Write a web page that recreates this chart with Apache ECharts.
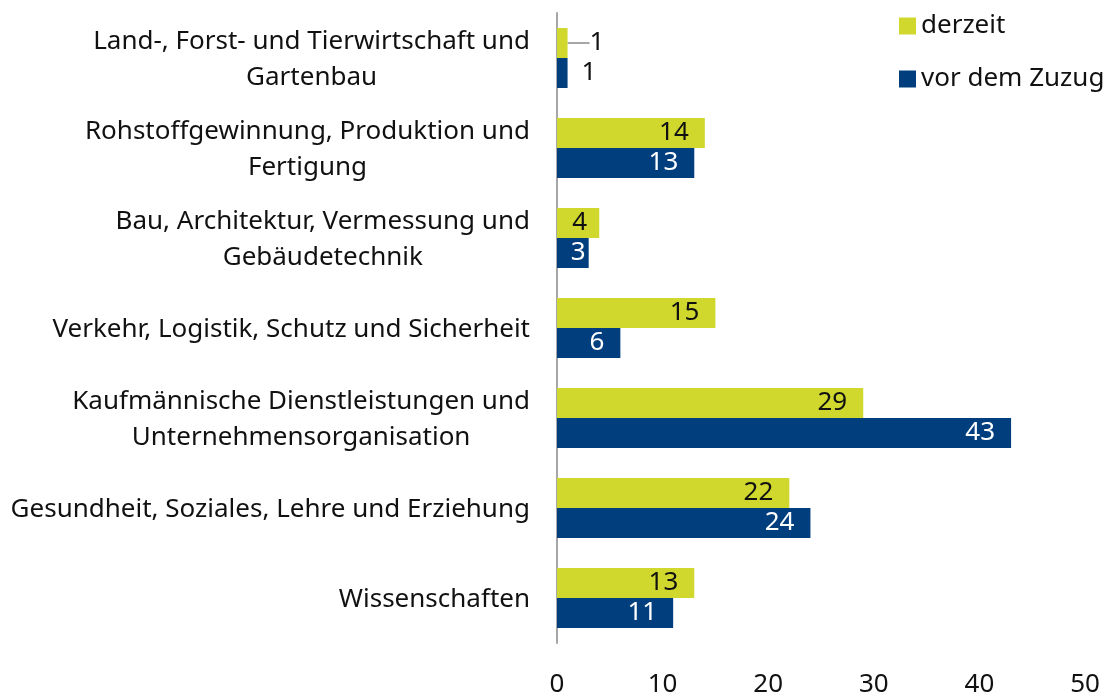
<!DOCTYPE html>
<html><head><meta charset="utf-8">
<script src="https://cdn.jsdelivr.net/npm/echarts@6/dist/echarts.min.js"></script>
<style>html,body{margin:0;padding:0;background:#fff}#c{width:1103px;height:695px}</style>
</head><body><div id="c"></div>
<script>
const categories = [
  "Land-, Forst- und Tierwirtschaft und\nGartenbau",
  "Rohstoffgewinnung, Produktion und\nFertigung",
  "Bau, Architektur, Vermessung und\nGebäudetechnik",
  "Verkehr, Logistik, Schutz und Sicherheit",
  "Kaufmännische Dienstleistungen und\nUnternehmensorganisation",
  "Gesundheit, Soziales, Lehre und Erziehung",
  "Wissenschaften"
];
const seriesNames = ["derzeit", "vor dem Zuzug"];
const derzeit = [1, 14, 4, 15, 29, 22, 13];
const vorDemZuzug = [1, 13, 3, 6, 43, 24, 11];
const xTicks = [0, 10, 20, 30, 40, 50];

const FONT = "Noto Sans";
const FS = 26;
const TXT = "#111";
const chart = echarts.init(document.getElementById('c'), null, {renderer: 'canvas'});

function labelFor(v, isBlue) {
  if (v < 2) return {position: 'right', distance: isBlue ? 14 : 8, color: TXT};
  if (v < 4) return {distance: 3};
  if (v < 5) return {distance: 12};
  return {};
}
function mkData(arr, isBlue) {
  return arr.map(v => ({value: v, label: labelFor(v, isBlue)}));
}

chart.setOption({
  animation: false,
  textStyle: {fontFamily: FONT},
  legend: {
    orient: 'vertical', left: 894, top: 8,
    itemWidth: 17, itemHeight: 17, itemGap: 27,
    icon: 'rect',
    textStyle: {fontSize: FS, color: TXT, fontFamily: FONT},
    data: seriesNames
  },
  grid: {left: 557, right: 18, top: 13, bottom: 52, containLabel: false, outerBoundsMode: 'none'},
  xAxis: {
    type: 'value', min: xTicks[0], max: xTicks[xTicks.length-1], interval: 10,
    axisLine: {show: false}, axisTick: {show: false}, splitLine: {show: false},
    axisLabel: {fontSize: FS, color: TXT, margin: 29, fontFamily: FONT}
  },
  yAxis: {
    type: 'category', inverse: true, data: categories,
    axisLine: {show: true, lineStyle: {color: '#a6a6a6', width: 2}},
    axisTick: {show: false},
    axisLabel: {
      margin: 27, align: 'right', fontFamily: FONT, padding: [3, 0, 0, 0],
      formatter: v => v.split('\n').map(l => '{c|' + l + '}').join('\n'),
      rich: {c: {align: 'center', fontSize: FS, lineHeight: 36, color: TXT, fontFamily: FONT}}
    }
  },
  series: [
    {
      name: seriesNames[0], type: 'bar', data: mkData(derzeit, false),
      barGap: '0%', barCategoryGap: '33.3%',
      itemStyle: {color: '#d0d82e'},
      label: {show: true, position: 'insideRight', distance: 16, fontSize: FS, color: TXT, fontFamily: FONT, padding: [4, 0, 0, 0]},
      labelLine: {show: true, lineStyle: {color: '#a6a6a6', width: 2}},
      labelLayout: p => (p.dataIndex === 0 ? {dx: 14} : {})
    },
    {
      name: seriesNames[1], type: 'bar', data: mkData(vorDemZuzug, true),
      barGap: '0%', barCategoryGap: '33.3%',
      itemStyle: {color: '#003e7e'},
      label: {show: true, position: 'insideRight', distance: 16, fontSize: FS, color: '#fff', fontFamily: FONT, padding: [4, 0, 0, 0]}
    }
  ]
});
</script></body></html>
